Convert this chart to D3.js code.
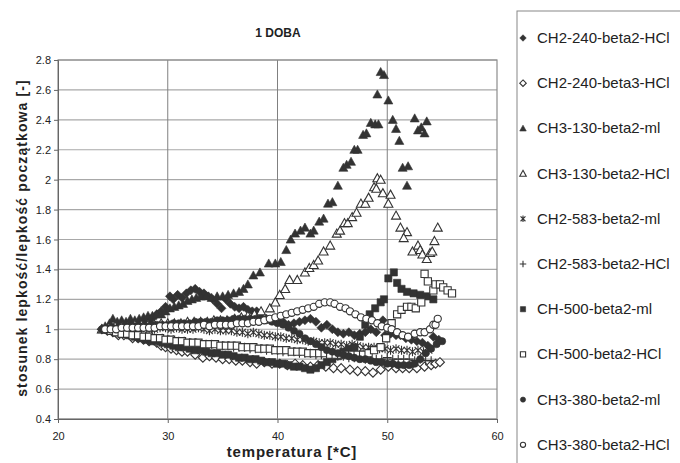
<!DOCTYPE html>
<html>
<head>
<meta charset="utf-8">
<script src="https://cdn.jsdelivr.net/npm/d3@7"></script>
<style>
  body { margin: 0; background: #fff; }
  text { font-family: "Liberation Sans", Arial, sans-serif; fill: #222; }
</style>
</head>
<body>
<div id="chart"></div>
<script>
var width = 680;
var height = 463;

// Series names in legend order
var seriesNames = [
  "CH2-240-beta2-HCl", "CH2-240-beta3-HCl", "CH3-130-beta2-ml", "CH3-130-beta2-HCl",
  "CH2-583-beta2-ml", "CH2-583-beta2-HCl", "CH-500-beta2-ml", "CH-500-beta2-HCl",
  "CH3-380-beta2-ml", "CH3-380-beta2-HCl"
];

// Axis ticks
var xTicks = [20, 30, 40, 50, 60];
var yTicks = [0.4, 0.6, 0.8, 1, 1.2, 1.4, 1.6, 1.8, 2, 2.2, 2.4, 2.6, 2.8];

// [temperature, ratio]
var ch2_240_b2_hcl = [[24.5,1.0],[25,1.01],[25.5,1.02],[26,1.02],[26.5,1.03],[27,1.03],[27.5,1.04],[28,1.05],[28.5,1.07],[29,1.1],[29.4,1.12],[29.8,1.15],[30.2,1.22],[30.5,1.2],[30.9,1.23],[31.3,1.21],[31.7,1.24],[32.1,1.26],[32.5,1.27],[32.9,1.25],[33.3,1.24],[33.7,1.22],[34.1,1.2],[34.5,1.17],[34.9,1.14],[35.3,1.2],[35.7,1.17],[36.1,1.15],[36.5,1.14],[36.9,1.15],[37.3,1.13],[37.7,1.12],[38.1,1.12],[38.5,1.08],[39,1.07],[39.5,1.06],[40,1.06],[40.5,1.05],[41,1.03],[41.5,1.04],[42,1.05],[42.5,1.06],[43,1.07],[43.5,1.05],[44,1.01],[44.5,1.03],[45,1.0],[45.5,0.98],[46,0.97],[46.5,0.98],[47,0.96],[47.5,0.97],[48,0.98],[48.5,1.0],[49,0.98],[49.6,1.06],[49.8,0.96],[50.3,0.97],[50.8,0.96],[51.2,0.96],[51.7,0.94],[52.2,0.93],[52.7,0.92],[53.2,0.91],[53.7,0.89],[54.2,0.95],[54.7,0.93]];
var ch2_240_b3_hcl = [[24,1.0],[24.5,0.99],[25,0.98],[25.5,0.96],[26,0.96],[26.8,0.94],[27.3,0.94],[27.8,0.93],[28.3,0.92],[29,0.91],[29.4,0.89],[29.8,0.88],[30.3,0.87],[30.8,0.86],[31.3,0.85],[31.8,0.85],[32.5,0.83],[33.2,0.81],[33.8,0.82],[34.4,0.81],[35,0.8],[35.6,0.8],[36.2,0.79],[36.8,0.79],[37.5,0.78],[38.1,0.77],[38.8,0.78],[39.5,0.77],[40.2,0.77],[40.9,0.76],[41.6,0.77],[42.3,0.76],[43,0.75],[43.7,0.76],[44.4,0.75],[45.1,0.74],[45.8,0.74],[46.6,0.73],[47.3,0.72],[48,0.72],[48.7,0.71],[49.4,0.73],[50.1,0.75],[50.8,0.74],[51.4,0.74],[52,0.74],[52.7,0.74],[53.4,0.75],[54,0.76],[54.4,0.77],[54.8,0.78]];
var ch3_130_b2_ml = [[24,1.0],[24.3,1.02],[24.7,1.04],[25,1.07],[25.4,1.05],[25.8,1.06],[26.2,1.05],[26.6,1.07],[27,1.06],[27.4,1.07],[27.8,1.08],[28.2,1.09],[28.6,1.09],[29,1.1],[29.4,1.1],[29.8,1.12],[30.2,1.14],[30.6,1.15],[31,1.16],[31.4,1.17],[31.8,1.19],[32.2,1.2],[32.6,1.21],[33,1.22],[33.5,1.22],[34,1.21],[34.5,1.22],[35,1.22],[35.5,1.23],[36,1.24],[36.5,1.25],[36.9,1.27],[37.3,1.3],[37.8,1.36],[38.4,1.38],[39.2,1.44],[39.8,1.44],[40.3,1.45],[40.8,1.53],[41.2,1.6],[41.6,1.64],[42.1,1.66],[42.5,1.68],[43,1.64],[43.3,1.66],[43.8,1.72],[44.2,1.74],[44.6,1.84],[45,1.85],[45.5,1.96],[46,2.08],[46.3,2.1],[46.7,2.12],[47,2.2],[47.3,2.2],[47.8,2.3],[48.1,2.31],[48.5,2.38],[48.9,2.37],[49.2,2.37],[49.1,2.57],[49.4,2.72],[49.7,2.7],[50.1,2.53],[50.5,2.4],[50.8,2.34],[51.1,2.26],[51.4,2.08],[51.8,1.96],[51.9,2.09],[52.5,2.41],[52.8,2.33],[53.1,2.35],[53.4,2.31],[53.6,2.39]];
var ch3_130_b2_hcl = [[24,1.0],[24.6,1.01],[25.2,1.02],[25.8,1.02],[26.4,1.02],[27,1.03],[27.6,1.03],[28.2,1.03],[28.8,1.03],[29.4,1.04],[30,1.04],[30.6,1.04],[31.2,1.04],[31.8,1.05],[32.4,1.05],[33,1.05],[33.6,1.05],[34.2,1.06],[34.8,1.06],[35.4,1.06],[36.1,1.07],[36.7,1.08],[37.3,1.09],[37.9,1.1],[38.5,1.12],[39.3,1.14],[39.8,1.18],[40.2,1.23],[40.7,1.27],[41.1,1.33],[41.8,1.33],[42.5,1.38],[42.9,1.41],[43.3,1.43],[43.7,1.46],[44.2,1.52],[44.8,1.56],[45.4,1.64],[45.7,1.66],[46.1,1.71],[46.4,1.71],[46.8,1.75],[47.2,1.78],[47.6,1.84],[48,1.84],[48.3,1.88],[48.8,1.95],[49.1,2.01],[49.4,2.0],[49.0,1.94],[49.6,1.91],[50.3,1.9],[50.1,1.84],[50.8,1.76],[51.2,1.68],[51.8,1.65],[51.5,1.61],[52.3,1.52],[52.8,1.56],[53,1.53],[53.2,1.5],[53.6,1.47],[53.9,1.51],[54.1,1.52],[54.3,1.59],[54.6,1.68]];
var ch2_583_b2_ml = [[24.3,1.0],[24.8,1.0],[25.3,1.0],[25.8,1.01],[26.3,1.0],[26.8,1.01],[27.3,1.01],[27.8,1.01],[28.3,1.0],[28.8,1.0],[29.3,1.01],[29.8,1.01],[30.3,1.0],[30.8,1.01],[31.3,1.0],[31.8,1.0],[32.3,1.0],[32.8,1.01],[33.3,1.0],[33.8,0.99],[34.3,1.0],[34.8,0.99],[35.3,0.99],[35.8,0.99],[36.3,0.98],[36.8,0.98],[37.3,0.97],[37.8,0.98],[38.3,0.97],[38.8,0.96],[39.3,0.96],[39.8,0.95],[40.3,0.95],[40.8,0.94],[41.3,0.94],[41.8,0.93],[42.3,0.93],[42.8,0.92],[43.3,0.92],[43.8,0.91],[44.3,0.91],[44.8,0.91],[45.3,0.9],[45.8,0.9],[46.3,0.89],[46.8,0.9],[47.3,0.89],[47.8,0.88],[48.3,0.88],[48.8,0.88],[49.3,0.87],[49.8,0.87],[50.3,0.86],[50.8,0.87],[51.3,0.86],[51.8,0.86],[52.3,0.85],[52.8,0.86],[53.3,0.85],[53.8,0.86]];
var ch2_583_b2_hcl = [[24.5,1.0],[25,0.99],[25.5,0.98],[26,0.97],[26.5,0.97],[27,0.96],[27.5,0.96],[28,0.95],[28.5,0.95],[29,0.94],[29.5,0.94],[30,0.93],[30.5,0.93],[31,0.92],[31.5,0.92],[32,0.91],[32.5,0.91],[33,0.9],[33.5,0.9],[34,0.9],[34.5,0.89],[35,0.89],[35.5,0.89],[36,0.88],[36.5,0.88],[37,0.88],[37.5,0.87],[38,0.87],[38.5,0.87],[39,0.86],[39.5,0.86],[40,0.86],[40.5,0.85],[41,0.85],[41.5,0.85],[42,0.84],[42.5,0.84],[43,0.84],[43.5,0.83],[44,0.83],[44.5,0.83],[45,0.82],[45.5,0.82],[46,0.82],[46.5,0.81],[47,0.81],[47.5,0.81],[48,0.8],[48.5,0.8],[49,0.8],[49.5,0.8],[50,0.81],[50.5,0.8],[51,0.8],[51.5,0.8],[52,0.8],[52.5,0.79],[53,0.8],[53.5,0.79],[54,0.79]];
var ch_500_b2_ml = [[24.5,1.0],[25,0.99],[25.5,0.98],[26,0.97],[26.5,0.96],[27,0.95],[27.5,0.94],[28,0.93],[28.5,0.92],[29,0.92],[29.5,0.91],[30,0.9],[30.5,0.89],[31,0.88],[31.5,0.88],[32,0.87],[32.5,0.86],[33,0.86],[33.5,0.85],[34,0.84],[34.5,0.84],[35,0.83],[35.5,0.83],[36,0.82],[36.5,0.81],[37,0.81],[37.5,0.8],[38,0.8],[38.5,0.79],[39,0.78],[39.5,0.78],[40,0.77],[40.5,0.77],[41,0.76],[41.5,0.75],[42,0.75],[42.5,0.74],[43,0.73],[43.5,0.74],[44,0.76],[44.5,0.78],[45,0.8],[45.5,0.82],[46,0.85],[46.5,0.87],[47,0.88],[47.5,0.95],[48,1.03],[48.4,1.1],[48.9,1.14],[49.4,1.18],[49.7,1.2],[50.1,1.34],[50.6,1.38],[50.9,1.31],[51.3,1.27],[51.8,1.25],[52.4,1.24],[53,1.23],[53.6,1.22],[54.2,1.2]];
var ch_500_b2_hcl = [[24.3,1.0],[24.8,0.99],[25.3,0.98],[25.8,0.97],[26.3,0.97],[26.8,0.96],[27.3,0.96],[27.8,0.95],[28.3,0.95],[28.8,0.94],[29.3,0.94],[29.8,0.93],[30.3,0.93],[30.8,0.92],[31.3,0.92],[31.8,0.91],[32.3,0.91],[32.8,0.91],[33.3,0.9],[33.8,0.9],[34.3,0.9],[34.8,0.89],[35.3,0.89],[35.8,0.89],[36.3,0.89],[36.8,0.88],[37.3,0.88],[37.8,0.88],[38.3,0.87],[38.8,0.87],[39.3,0.87],[39.8,0.86],[40.3,0.86],[40.8,0.86],[41.3,0.85],[41.8,0.85],[42.3,0.85],[42.8,0.84],[43.3,0.84],[43.8,0.84],[44.3,0.84],[44.8,0.83],[45.3,0.83],[45.8,0.83],[46.3,0.83],[46.8,0.83],[47.3,0.83],[47.8,0.83],[48.3,0.84],[48.8,0.86],[49.4,0.88],[49.9,0.94],[50.4,1.04],[50.9,1.1],[51.3,1.13],[51.8,1.15],[52.2,1.15],[52.6,1.14],[53.1,1.18],[53.4,1.37],[53.7,1.32],[54.2,1.26],[54.4,1.3],[54.8,1.3],[55.1,1.28],[55.5,1.26],[55.9,1.24]];
var ch3_380_b2_ml = [[24,1.0],[24.5,1.0],[25,1.01],[25.5,1.01],[26,1.01],[26.5,1.02],[27,1.02],[27.5,1.02],[28,1.02],[28.5,1.03],[29,1.03],[29.5,1.03],[30,1.03],[30.5,1.04],[31,1.04],[31.5,1.04],[32,1.04],[32.5,1.05],[33,1.05],[33.5,1.05],[34,1.05],[34.5,1.06],[35,1.06],[35.5,1.06],[36,1.07],[36.5,1.07],[37,1.07],[37.5,1.07],[38,1.07],[38.5,1.06],[39,1.06],[39.5,1.05],[40,1.04],[40.5,1.03],[41,1.01],[41.5,0.99],[42,0.97],[42.5,0.94],[43,0.92],[43.5,0.9],[44,0.88],[44.5,0.86],[45,0.85],[45.5,0.84],[46,0.83],[46.5,0.82],[47,0.81],[47.5,0.8],[48,0.8],[48.5,0.79],[49,0.78],[49.5,0.78],[50,0.77],[50.5,0.77],[51,0.76],[51.5,0.76],[52,0.76],[52.5,0.77],[53,0.8],[53.5,0.84],[54,0.87],[54.5,0.9],[55,0.92]];
var ch3_380_b2_hcl = [[24.3,1.0],[24.8,1.0],[25.3,1.0],[25.8,1.01],[26.3,1.01],[26.8,1.01],[27.3,1.01],[27.8,1.01],[28.3,1.01],[28.8,1.01],[29.3,1.02],[29.8,1.02],[30.3,1.02],[30.8,1.02],[31.3,1.02],[31.8,1.02],[32.3,1.02],[32.8,1.02],[33.3,1.03],[33.8,1.02],[34.3,1.03],[34.8,1.03],[35.3,1.03],[35.8,1.03],[36.3,1.04],[36.8,1.04],[37.3,1.04],[37.8,1.05],[38.3,1.05],[38.8,1.06],[39.3,1.07],[39.8,1.08],[40.3,1.09],[40.8,1.1],[41.3,1.11],[41.8,1.12],[42.3,1.13],[42.8,1.14],[43.3,1.15],[43.8,1.17],[44.3,1.18],[44.8,1.18],[45.2,1.17],[45.7,1.15],[46.2,1.14],[46.6,1.12],[47.1,1.1],[47.6,1.08],[48.1,1.07],[48.6,1.06],[49.1,1.04],[49.5,1.02],[50,1.01],[50.4,1.0],[50.9,0.98],[51.4,0.96],[51.9,0.95],[52.5,0.97],[53,0.98],[53.4,0.98],[53.9,1.0],[54.2,1.03],[54.4,1.03],[54.6,1.07]];

var seriesData = [ch2_240_b2_hcl, ch2_240_b3_hcl, ch3_130_b2_ml, ch3_130_b2_hcl,
  ch2_583_b2_ml, ch2_583_b2_hcl, ch_500_b2_ml, ch_500_b2_hcl, ch3_380_b2_ml, ch3_380_b2_hcl];

// Marker style per series (legend order)
var markers = ["diamond", "diamond-open", "triangle", "triangle-open", "star",
  "plus", "square", "square-open", "circle", "circle-open"];

var ink = "#333";

var plot = {left: 58, right: 497, top: 60, bottom: 419};

var x = d3.scaleLinear().domain([20, 60]).range([plot.left, plot.right]);
var y = d3.scaleLinear().domain([0.4, 2.8]).range([plot.bottom, plot.top]);

var svg = d3.select("#chart").append("svg")
    .attr("width", width)
    .attr("height", height);

// Grid lines
svg.append("g").selectAll("line")
  .data(yTicks)
  .enter().append("line")
    .attr("x1", plot.left).attr("x2", plot.right)
    .attr("y1", d => y(d)).attr("y2", d => y(d))
    .attr("stroke", "#a8a8a8").attr("stroke-width", 1.2);

svg.append("g").selectAll("line")
  .data(xTicks.slice(1, -1))
  .enter().append("line")
    .attr("x1", d => x(d)).attr("x2", d => x(d))
    .attr("y1", plot.top).attr("y2", plot.bottom)
    .attr("stroke", "#808080").attr("stroke-width", 1);

// Plot border
svg.append("rect")
  .attr("x", plot.left).attr("y", plot.top)
  .attr("width", plot.right - plot.left).attr("height", plot.bottom - plot.top)
  .attr("fill", "none").attr("stroke", "#8c8c8c").attr("stroke-width", 1.2);

// Axes
var xAxis = svg.append("g")
  .attr("transform", "translate(0," + plot.bottom + ")")
  .call(d3.axisBottom(x).tickValues(xTicks).tickSize(4).tickPadding(9).tickFormat(d3.format("d")));
var yAxis = svg.append("g")
  .attr("transform", "translate(" + plot.left + ",0)")
  .call(d3.axisLeft(y).tickValues(yTicks).tickSize(4).tickPadding(3).tickFormat(d => String(+d.toFixed(1))));

[xAxis, yAxis].forEach(function(a) {
  a.select(".domain").attr("stroke", "#666");
  a.selectAll(".tick line").attr("stroke", "#666");
  a.selectAll(".tick text").attr("font-size", 11).attr("fill", "#333")
    .attr("font-family", "Liberation Sans, Arial, sans-serif");
});

// Marker path generator
function markerPath(type, s) {
  var h = s / 2;
  switch (type) {
    case "diamond":
    case "diamond-open":
      return "M0," + (-h) + "L" + h + ",0L0," + h + "L" + (-h) + ",0Z";
    case "triangle":
    case "triangle-open":
      return "M0," + (-h) + "L" + h + "," + (h * 0.8) + "L" + (-h) + "," + (h * 0.8) + "Z";
    case "square":
    case "square-open":
      var q = h * 0.8;
      return "M" + (-q) + "," + (-q) + "H" + q + "V" + q + "H" + (-q) + "Z";
    case "circle":
    case "circle-open":
      var r = h * 0.8;
      return "M" + r + ",0A" + r + "," + r + " 0 1,1 " + (-r) + ",0A" + r + "," + r + " 0 1,1 " + r + ",0Z";
    case "plus":
      return "M" + (-h) + ",0H" + h + "M0," + (-h) + "V" + h;
    case "star":
      var k = h * 0.75;
      return "M" + (-k) + "," + (-k) + "L" + k + "," + k + "M" + k + "," + (-k) + "L" + (-k) + "," + k + "M0," + (-h) + "V" + h;
  }
}

function styleMarker(sel, type) {
  var open = type.indexOf("open") >= 0 || type == "plus" || type == "star";
  sel.attr("fill", open ? (type == "plus" || type == "star" ? "none" : "#fff") : ink)
     .attr("stroke", ink)
     .attr("stroke-width", open ? 1.1 : 0.6);
}

// Draw the series
seriesData.forEach(function(data, i) {
  var g = svg.append("g").attr("class", "series");
  g.selectAll("path")
    .data(data)
    .enter().append("path")
      .attr("transform", d => "translate(" + x(d[0]) + "," + y(d[1]) + ")")
      .attr("d", markerPath(markers[i], 9))
      .call(styleMarker, markers[i]);
});

// Title
svg.append("text")
  .attr("x", 278).attr("y", 37)
  .attr("text-anchor", "middle")
  .attr("font-size", 12).attr("font-weight", "bold")
  .text("1 DOBA");

// Axis titles
svg.append("text")
  .attr("x", 292).attr("y", 457)
  .attr("text-anchor", "middle")
  .attr("font-size", 15).attr("font-weight", "bold")
  .attr("letter-spacing", 0.8)
  .text("temperatura [*C]");

svg.append("text")
  .attr("transform", "translate(27,238) rotate(-90)")
  .attr("text-anchor", "middle")
  .attr("font-size", 14).attr("font-weight", "bold")
  .attr("letter-spacing", 1.1)
  .text("stosunek lepkość/lepkość początkowa [-]");

// Legend
svg.append("rect")
  .attr("x", 517).attr("y", 11)
  .attr("width", 220).attr("height", 500)
  .attr("fill", "none").attr("stroke", "#888").attr("stroke-width", 1);

var legend = svg.append("g").selectAll("g")
  .data(seriesNames)
  .enter().append("g")
    .attr("transform", (d, i) => "translate(523," + (38 + i * 45.2) + ")");

legend.append("path")
  .attr("d", (d, i) => markerPath(markers[i], 6.5))
  .each(function(d, i) { d3.select(this).call(styleMarker, markers[i]); });

legend.append("text")
  .attr("x", 14).attr("y", 5)
  .attr("font-size", 15)
  .text(d => d);
</script>
</body>
</html>
